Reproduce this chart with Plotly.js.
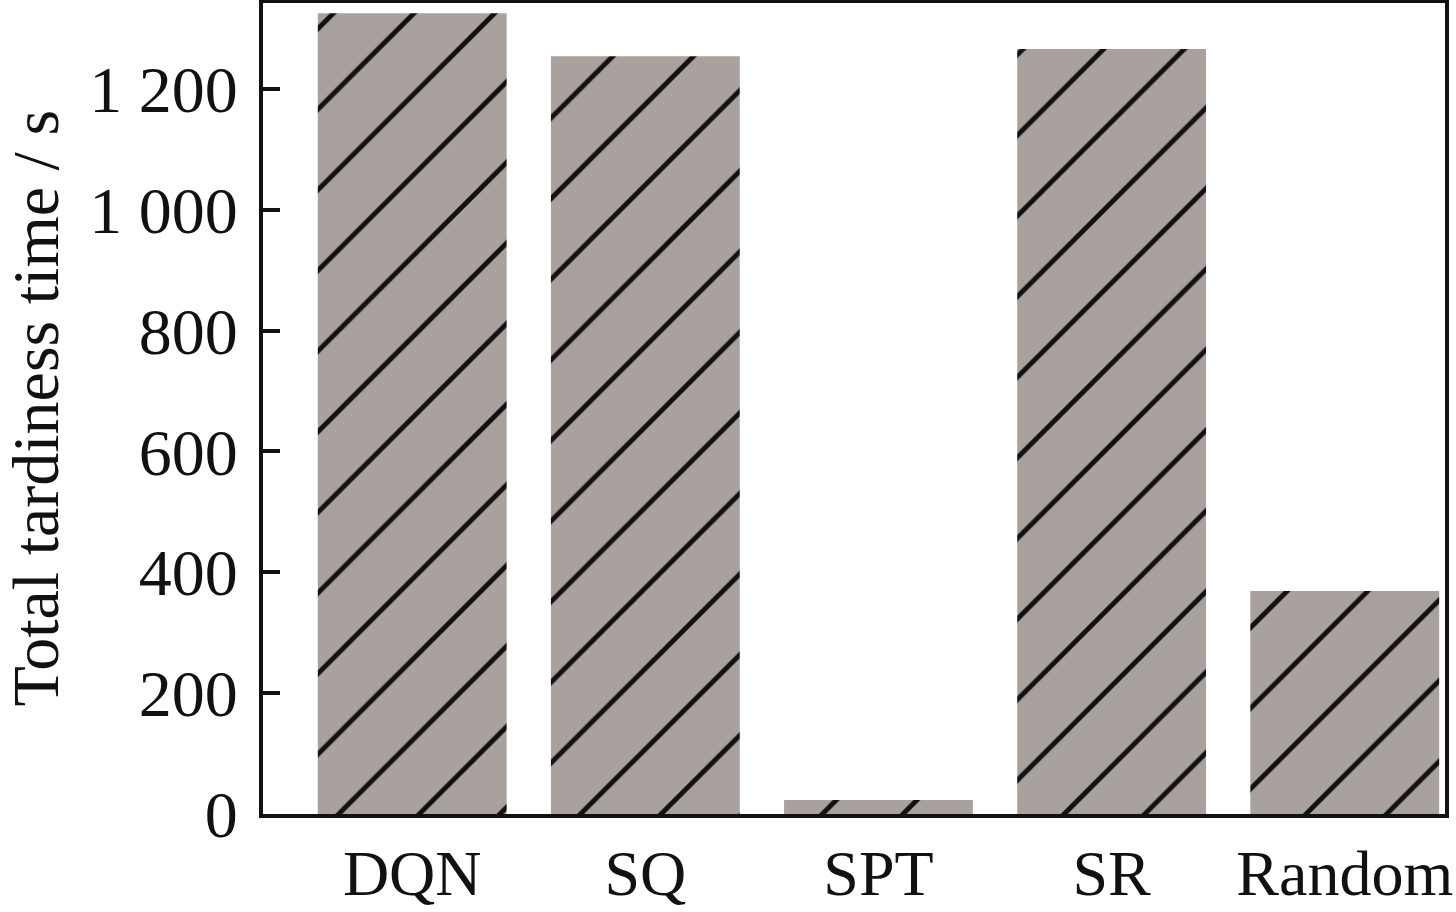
<!DOCTYPE html>
<html>
<head>
<meta charset="utf-8">
<script src="https://cdn.plot.ly/plotly-3.0.1.min.js"></script>
<style>html,body{margin:0;padding:0;background:#fff;}#chart{width:1456px;height:912px;}</style>
</head>
<body>
<div id="chart"></div>
<script>
const methods = ["DQN", "SQ", "SPT", "SR", "Random"];
const tardiness = [1325, 1254, 23, 1266, 369];
const yTicks = [0, 200, 400, 600, 800, 1000, 1200];
const yTitle = "Total tardiness time / s";

const font = {family: "Liberation Serif, Times New Roman, serif", size: 66, color: "#111"};
const xfont = {family: "Liberation Serif, Times New Roman, serif", size: 64, color: "#111"};

const trace = {
  type: "bar",
  x: methods,
  y: tardiness,
  marker: {
    color: "#a9a19e",
    line: {width: 0},
    pattern: {shape: "/", fgcolor: "#111", bgcolor: "#a9a19e", size: 57, solidity: 0.085, fillmode: "replace"}
  },
  hoverinfo: "x+y"
};

const layout = {
  width: 1456, height: 912,
  margin: {l: 263, r: 11, t: 3, b: 98},
  paper_bgcolor: "#fff", plot_bgcolor: "#fff",
  font: font,
  separators: ". ",
  bargap: 0.19,
  showlegend: false,
  xaxis: {
    type: "category",
    range: [-0.64, 4.43],
    showline: true, mirror: true, linecolor: "#111", linewidth: 4,
    ticks: "", showgrid: false, zeroline: false,
    tickfont: xfont,
    ticklabelstandoff: 0
  },
  yaxis: {
    range: [0, 1342],
    tickvals: yTicks,
    showline: true, mirror: true, linecolor: "#111", linewidth: 4,
    ticks: "inside", ticklen: 17, tickwidth: 4, tickcolor: "#111",
    showgrid: false, zeroline: false,
    separatethousands: true,
    tickfont: font,
    ticklabelstandoff: 8
  },
  annotations: [{
    text: yTitle, textangle: -90, showarrow: false,
    xref: "paper", yref: "paper", x: 0, y: 0.5,
    xanchor: "center", yanchor: "middle", xshift: -228,
    font: font
  }]
};

Plotly.newPlot("chart", [trace], layout, {displayModeBar: false, staticPlot: true});
</script>
</body>
</html>
